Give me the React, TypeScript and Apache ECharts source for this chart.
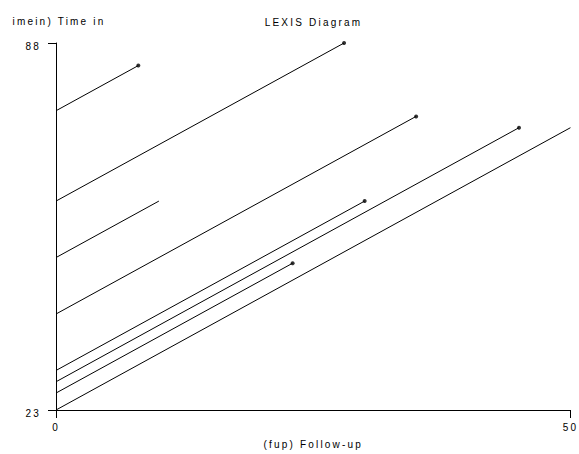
import React, { useEffect, useRef } from "react";
import * as echarts from "echarts";

// Subjects of the Lexis diagram
const timeIn = [76, 60, 50, 40, 30, 28, 26, 23];
const followUp = [8, 28, 10, 35, 30, 45, 23, 50];
const timeOut = [84, 88, 60, 75, 60, 73, 49, 73];
const failed = [1, 1, 0, 1, 1, 1, 1, 0];

const xTicks = [0, 50];
const yTicks = [23, 88];

const titleText = "LEXIS Diagram";
const xTitle = "(fup) Follow-up";
const yTitle = "imein) Time in";

const FONT = "'Liberation Sans', Arial, Helvetica, sans-serif";

export default function App() {
  const ref = useRef<HTMLDivElement>(null);

  useEffect(() => {
    if (!ref.current) return;
    const chart = echarts.init(ref.current, undefined, { renderer: "svg" });

    const lineSeries = timeIn.map((t, i) => ({
      type: "line",
      data: [
        [0, t],
        [followUp[i], timeOut[i]],
      ],
      symbol: "none",
      silent: true,
      lineStyle: { color: "#000", width: 1 },
      z: 2,
    }));

    const dots = timeIn
      .map((_, i) => (failed[i] ? [followUp[i], timeOut[i]] : null))
      .filter((d) => d !== null);

    const textStyle = { fontFamily: FONT, fontSize: 10, color: "#000" };

    chart.setOption({
      animation: false,
      backgroundColor: "#fff",
      title: {
        text: titleText,
        left: 308.5,
        top: 12,
        textAlign: "center",
        textStyle: { ...textStyle, fontWeight: "normal" },
      },
      grid: { left: 56, right: 8, top: 43, bottom: 44, containLabel: false },
      xAxis: {
        type: "value",
        min: 0,
        max: 50,
        name: xTitle,
        nameLocation: "middle",
        nameGap: 34,
        nameTextStyle: { ...textStyle, align: "center", verticalAlign: "middle" },
        splitLine: { show: false },
        axisLine: { show: true, lineStyle: { color: "#000", width: 1 } },
        axisTick: {
          show: true,
          length: 8,
          customValues: xTicks,
          lineStyle: { color: "#000", width: 1 },
        },
        axisLabel: {
          ...textStyle,
          customValues: xTicks,
          margin: 17,
          verticalAlign: "middle",
        },
      },
      yAxis: {
        type: "value",
        min: 23,
        max: 88,
        name: yTitle,
        nameLocation: "end",
        nameGap: 21.5,
        nameTextStyle: {
          ...textStyle,
          align: "center",
          verticalAlign: "middle",
          padding: [0, 0, 0, 6],
        },
        splitLine: { show: false },
        axisLine: { show: true, lineStyle: { color: "#000", width: 1 } },
        axisTick: {
          show: true,
          length: 8,
          customValues: yTicks,
          lineStyle: { color: "#000", width: 1 },
        },
        axisLabel: {
          ...textStyle,
          customValues: yTicks,
          margin: 15,
          verticalAlign: "top",
          lineHeight: 6,
        },
      },
      series: [
        ...lineSeries,
        {
          type: "scatter",
          data: dots,
          symbol: "circle",
          symbolSize: 4,
          silent: true,
          itemStyle: { color: "#000" },
          z: 3,
        },
      ],
    });

    return () => chart.dispose();
  }, []);

  return (
    <div
      className="lexis"
      style={{
        position: "fixed",
        left: 0,
        top: 0,
        width: 579,
        height: 454,
        background: "#fff",
      }}
    >
      <style>{`.lexis svg text { letter-spacing: 2.2px; }`}</style>
      <div ref={ref} style={{ width: 579, height: 454 }} />
    </div>
  );
}
